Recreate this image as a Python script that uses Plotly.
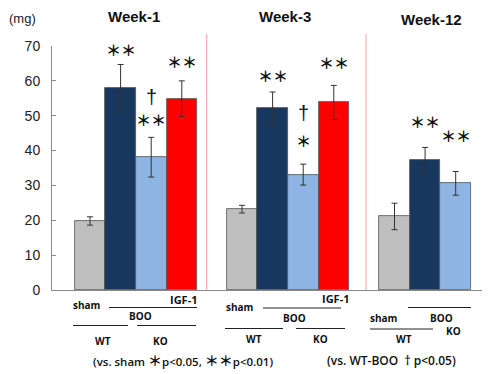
import plotly.graph_objects as go

# ---- data ----
weeks = ["Week-1", "Week-3", "Week-12"]
groups = ["WT sham", "WT BOO", "KO BOO", "KO BOO IGF-1"]
values = {
    "Week-1": [19.8, 57.9, 38.1, 54.9],
    "Week-3": [23.2, 52.1, 33.1, 53.8],
    "Week-12": [21.1, 37.4, 30.6],
}
errors = {
    "Week-1": [1.2, 6.8, 5.7, 5.1],
    "Week-3": [1.1, 4.7, 3.0, 4.9],
    "Week-12": [3.8, 3.5, 3.4],
}
# significance marks per bar (text, height in mg)
marks = {
    "Week-1": [[], [("＊＊", 69.0)], [("†", 55.4), ("＊＊", 48.8)], [("＊＊", 65.6)]],
    "Week-3": [[], [("＊＊", 61.6)], [("†", 50.8), ("＊", 43.0)], [("＊＊", 65.3)]],
    "Week-12": [[], [("＊＊", 48.3)], [("＊＊", 44.2)]],
}
yticks = [0, 10, 20, 30, 40, 50, 60, 70]

colors = ["#BFBFBF", "#17375E", "#8DB4E2", "#FF0000"]

# ---- layout helpers (reference pixel -> axis units) ----
OFF = 8  # page body margin
W, H = 490 - OFF, 374 - OFF
L_REF, T_REF, BOT_REF = 52, 46, 290
BARPX = 30.6
plot_h = BOT_REF - T_REF
plot_w = 490 - L_REF
def px2x(px):
    return (px - L_REF) / BARPX
def px2p(px):
    return (px - L_REF) / plot_w
def py2p(py):
    return (BOT_REF - py) / plot_h

group_start = [px2x(90), px2x(242), px2x(394.5)]

fig = go.Figure()
def note(txt, cx, cy, font):
    fig.add_annotation(x=px2p(cx), y=py2p(cy), xref="paper", yref="paper", text=txt,
                       showarrow=False, xanchor="center", yanchor="middle", font=font)

for gi, wk in enumerate(weeks):
    vals = values[wk]
    xs = [group_start[gi] + i for i in range(len(vals))]
    fig.add_trace(go.Bar(
        x=xs, y=vals, width=1.0,
        marker=dict(color=colors[:len(vals)], line=dict(color="#555555", width=0.8)),
        error_y=dict(type="data", array=errors[wk], color="#333333", thickness=1, width=3),
        showlegend=False, hoverinfo="y",
    ))
    for i, ml in enumerate(marks[wk]):
        for txt, yy in ml:
            if txt == "†":
                fig.add_annotation(x=xs[i], y=yy, xref="x", yref="y", text=txt, showarrow=False,
                                   yanchor="middle",
                                   font=dict(size=20, family="Liberation Sans", color="#111"))
            else:
                fig.add_annotation(x=xs[i], y=yy, xref="x", yref="y", text="<b>%s</b>" % txt,
                                   showarrow=False, yanchor="middle",
                                   font=dict(size=15, family="Noto Sans CJK JP", color="#111"))

# dividers
for dx in [206.7, 366]:
    fig.add_shape(type="line", xref="x", yref="paper", x0=px2x(dx), x1=px2x(dx),
                  y0=0, y1=py2p(34), line=dict(color="#F2A0A0", width=1))

# week titles
for txt, cx, cy in [("Week-1", 134, 17), ("Week-3", 285, 17), ("Week-12", 431, 19)]:
    note("<b>%s</b>" % txt, cx, cy, dict(size=15, family="Liberation Sans", color="#111"))
note("(mg)", 22, 18, dict(size=13, family="Liberation Sans", color="#222"))

# bottom group labels
lab = [
    ("sham", 87, 305, 10), ("IGF-1", 183, 299, 11), ("BOO", 140, 316, 10), ("WT", 103, 341, 10), ("KO", 160, 341, 10),
    ("sham", 240, 307, 10), ("IGF-1", 335, 298, 11), ("BOO", 294, 318, 10), ("WT", 254, 339, 10), ("KO", 320, 339, 10),
    ("sham", 384, 318, 10), ("BOO", 441, 318, 10), ("WT", 404, 339, 10), ("KO", 453, 331, 10),
]
for txt, cx, cy, fs in lab:
    note("<b>%s</b>" % txt, cx, cy, dict(size=fs, family="Open Sans", color="#111"))

lines = [
    (109, 197, 307.5), (73, 128, 325.5), (137, 196, 325.5),
    (263, 341, 308), (225, 283, 328.5), (296, 345, 328.5),
    (408, 471, 307.5), (370, 433, 329),
]
for x0, x1, yy in lines:
    fig.add_shape(type="line", xref="x", yref="paper", x0=px2x(x0), x1=px2x(x1),
                  y0=py2p(yy), y1=py2p(yy), line=dict(color="#222", width=1))

star = '<span style="font-size:14px;font-family:Noto Sans CJK JP"><b>%s</b></span>'
note("(vs. sham " + star % "＊" + "p&lt;0.05, " + star % "＊＊" + "p&lt;0.01)", 183, 360,
     dict(size=11.5, family="Open Sans", color="#111", weight=600))
note("(vs. WT-BOO  † p&lt;0.05)", 391, 360,
     dict(size=12, family="Open Sans", color="#111", weight=600))

fig.update_layout(
    width=W, height=H, margin=dict(l=L_REF - OFF, r=0, t=T_REF - OFF, b=H - (BOT_REF - OFF)),
    paper_bgcolor="white", plot_bgcolor="white", bargap=0,
    xaxis=dict(range=[0, px2x(490)], showticklabels=False, ticks="", showgrid=False,
               zeroline=False, showline=True, linecolor="#888", linewidth=1),
    yaxis=dict(range=[0, 70], tickvals=yticks, ticks="inside", ticklen=4, tickcolor="#888",
               showline=True, linecolor="#888", linewidth=1, showgrid=False, zeroline=False,
               tickfont=dict(size=14, family="Liberation Sans", color="#222"), ticklabelstandoff=8),
)
fig.write_html("out.html")
